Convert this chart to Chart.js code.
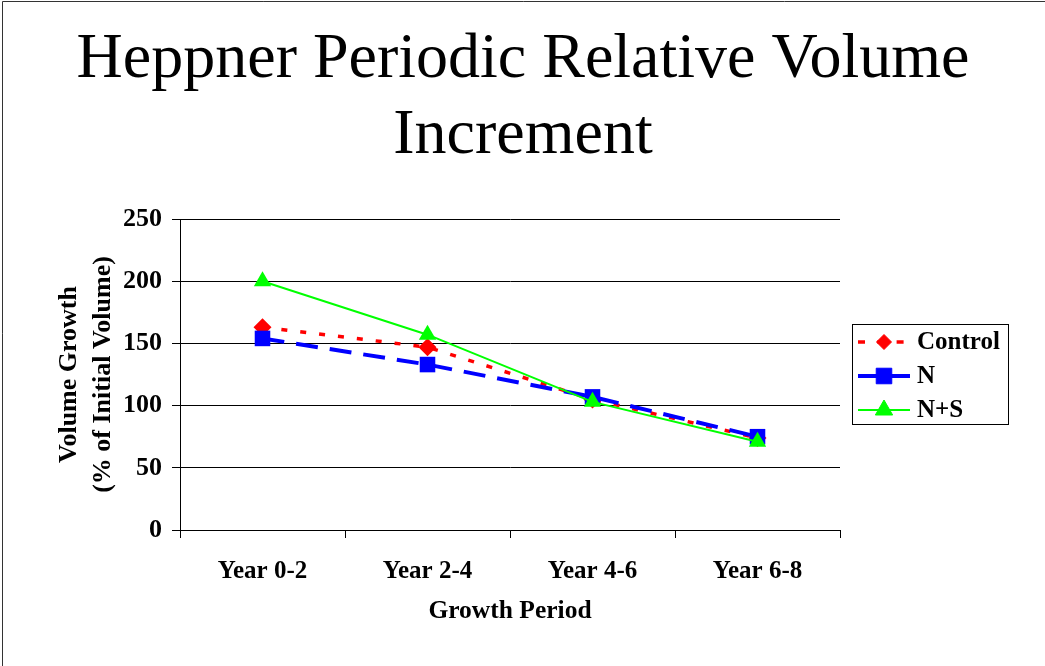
<!DOCTYPE html>
<html>
<head>
<meta charset="utf-8">
<script src="https://cdn.jsdelivr.net/npm/chart.js@4/dist/chart.umd.min.js"></script>
<style>
  html, body { margin: 0; padding: 0; background: #fff; }
  #wrap { position: relative; width: 1045px; height: 666px; }
</style>
</head>
<body>
<div id="wrap"><canvas id="c" width="1045" height="666"></canvas></div>
<script>
const titleLines = ['Heppner Periodic Relative Volume', 'Increment'];
const categories = ['Year 0-2', 'Year 2-4', 'Year 4-6', 'Year 6-8'];
const seriesNames = ['Control', 'N', 'N+S'];
const controlValues = [163, 147, 105, 74];
const nValues = [154, 133, 107, 75];
const nsValues = [200, 157, 103, 71];
const yTicks = [0, 50, 100, 150, 200, 250];
const xTitle = 'Growth Period';
const yTitle = ['Volume Growth', '(% of Initial Volume)'];

const SERIF = "'Liberation Serif', 'Times New Roman', serif";

const decorPlugin = {
  id: 'decor',
  beforeDraw(chart) {
    const ctx = chart.ctx;
    ctx.save();
    ctx.fillStyle = '#fff';
    ctx.fillRect(0, 0, chart.width, chart.height);
    ctx.strokeStyle = '#333';
    ctx.lineWidth = 1;
    ctx.beginPath();
    ctx.moveTo(2.5, chart.height);
    ctx.lineTo(2.5, 1.5);
    ctx.lineTo(chart.width, 1.5);
    ctx.stroke();
    // chart title, centred on the page
    ctx.fillStyle = '#000';
    ctx.font = 'normal 64px ' + SERIF;
    ctx.textAlign = 'center';
    ctx.textBaseline = 'alphabetic';
    const baselines = [77, 153];
    titleLines.forEach((t, i) => ctx.fillText(t, 523, baselines[i]));
    ctx.restore();
  },
  afterDraw(chart) {
    const ctx = chart.ctx;
    ctx.save();
    ctx.strokeStyle = '#000';
    ctx.lineWidth = 1;
    ctx.strokeRect(852.5, 324.5, 156, 100);
    const rows = [342, 376, 410];
    chart.data.datasets.forEach((ds, i) => {
      const y = rows[i];
      ctx.save();
      ctx.strokeStyle = ds.borderColor;
      ctx.lineWidth = ds.borderWidth;
      ctx.setLineDash(ds.legendDash);
      ctx.beginPath();
      ctx.moveTo(858, y);
      ctx.lineTo(910, y);
      ctx.stroke();
      ctx.restore();
      ctx.save();
      ctx.fillStyle = ds.pointBackgroundColor;
      ctx.strokeStyle = ds.pointBackgroundColor;
      Chart.helpers.drawPoint(ctx, { pointStyle: ds.pointStyle, radius: ds.legendRadius, borderWidth: 0.01 }, 884, y);
      ctx.restore();
      ctx.fillStyle = '#000';
      ctx.font = 'bold 25px ' + SERIF;
      ctx.textBaseline = 'middle';
      ctx.textAlign = 'left';
      ctx.fillText(seriesNames[i], 917, y + 1);
    });
    ctx.restore();
  }
};

new Chart(document.getElementById('c'), {
  type: 'line',
  data: {
    labels: categories,
    datasets: [
      {
        label: seriesNames[0],
        data: controlValues,
        borderColor: '#ff0000',
        backgroundColor: '#ff0000',
        pointBackgroundColor: '#ff0000',
        pointBorderColor: '#ff0000',
        borderWidth: 3.5,
        borderDash: [6, 13],
        legendDash: [7, 12.3],
        pointStyle: 'rectRot',
        pointRadius: 9,
        legendRadius: 7.5,
        pointBorderWidth: 0,
        tension: 0,
        order: 3
      },
      {
        label: seriesNames[1],
        data: nValues,
        borderColor: '#0000ff',
        backgroundColor: '#0000ff',
        pointBackgroundColor: '#0000ff',
        pointBorderColor: '#0000ff',
        borderWidth: 4,
        borderDash: [22, 12],
        legendDash: [],
        pointStyle: 'rect',
        pointRadius: 11,
        legendRadius: 11,
        pointBorderWidth: 0,
        tension: 0,
        order: 2
      },
      {
        label: seriesNames[2],
        data: nsValues,
        borderColor: '#00ff00',
        backgroundColor: '#00ff00',
        pointBackgroundColor: '#00ff00',
        pointBorderColor: '#00ff00',
        borderWidth: 2,
        borderDash: [],
        legendDash: [],
        pointStyle: 'triangle',
        pointRadius: 10,
        legendRadius: 10,
        pointBorderWidth: 0,
        tension: 0,
        order: 1
      }
    ]
  },
  options: {
    responsive: false,
    animation: false,
    devicePixelRatio: 1,
    layout: { padding: { left: 0, right: 205, top: 219, bottom: 0 } },
    plugins: {
      legend: { display: false },
      tooltip: { enabled: false },
      title: { display: false }
    },
    scales: {
      x: {
        type: 'category',
        offset: true,
        afterFit: (s) => { s.height = 136; },
        border: { display: true, color: '#000', width: 1 },
        grid: { offset: true, drawOnChartArea: false, drawTicks: true, tickLength: 8, color: '#000', tickColor: '#000' },
        ticks: { color: '#000', padding: 19, font: { family: SERIF, size: 25, weight: 'bold', lineHeight: 1.2 } },
        title: {
          display: true, text: xTitle, color: '#000',
          font: { family: SERIF, size: 25.5, weight: 'bold', lineHeight: 1.2 },
          padding: { top: 0, bottom: 39 }
        }
      },
      y: {
        min: 0, max: 250,
        afterFit: (s) => { s.width = 180; },
        afterBuildTicks: (s) => { s.ticks = yTicks.map(v => ({ value: v })); },
        border: { display: true, color: '#000', width: 1 },
        grid: { color: '#000', lineWidth: 1, drawTicks: true, tickLength: 8, tickColor: '#000' },
        ticks: { color: '#000', padding: 10, font: { family: SERIF, size: 26, weight: 'bold' } },
        title: {
          display: true, text: yTitle, color: '#000',
          font: { family: SERIF, size: 26, weight: 'bold', lineHeight: 1.31 },
          padding: { top: 52, bottom: 0 }
        }
      }
    }
  },
  plugins: [decorPlugin]
});
</script>
</body>
</html>
